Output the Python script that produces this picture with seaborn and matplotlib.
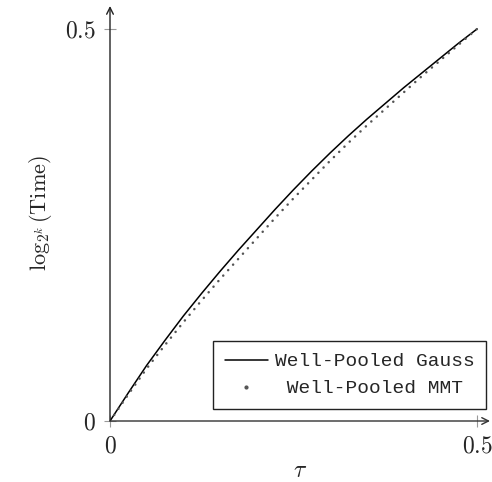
"""Well-Pooled Gauss vs MMT 运行时间曲线 (pgfplots 风格复刻)。"""

import matplotlib
matplotlib.use("Agg")
import matplotlib.pyplot as plt
from matplotlib.lines import Line2D
import pandas as pd
import seaborn as sns

# 数据
TAU = [0.0, 0.025, 0.05, 0.075, 0.10, 0.125, 0.15, 0.175, 0.20, 0.225, 0.25,
       0.275, 0.30, 0.325, 0.35, 0.375, 0.40, 0.425, 0.45, 0.475, 0.50]
GAUSS = [0.0, 0.036, 0.071, 0.103, 0.134, 0.163, 0.191, 0.218, 0.244, 0.270, 0.295,
         0.319, 0.342, 0.364, 0.385, 0.405, 0.425, 0.444, 0.463, 0.482, 0.500]
MMT = [0.0, 0.034, 0.067, 0.097, 0.126, 0.154, 0.181, 0.207, 0.233, 0.259, 0.284,
       0.308, 0.332, 0.355, 0.377, 0.398, 0.419, 0.440, 0.460, 0.480, 0.500]
XTICKS = [0, 0.5]
YTICKS = [0, 0.5]

sns.set_theme(style="white")
plt.rcParams.update({
    "font.family": ["DejaVu Serif"],
    "mathtext.fontset": "cm",
    "axes.unicode_minus": False,
})

df = pd.DataFrame({"tau": TAU, "gauss": GAUSS, "mmt": MMT})

fig = plt.figure(figsize=(4.92, 4.82), dpi=100)
ax = fig.add_axes([110 / 492, 1 - 421 / 482, 380 / 492, 415 / 482])

sns.lineplot(data=df, x="tau", y="gauss", ax=ax, color="black", lw=1.1)
sns.lineplot(data=df, x="tau", y="mmt", ax=ax, color="#555555", lw=1.8,
             linestyle=(0, (0.05, 2.9)), dash_capstyle="round")

ax.set_xlim(0, 380 / 734)
ax.set_ylim(0, 415 / 784)

# 坐标轴: 带箭头
for s in ax.spines.values():
    s.set_visible(False)
ax.annotate("", xy=(1, 0), xytext=(0, 0), xycoords="axes fraction",
            arrowprops=dict(arrowstyle="->", lw=1.0, color="#333333",
                            shrinkA=0, shrinkB=0))
ax.annotate("", xy=(0, 1), xytext=(0, 0), xycoords="axes fraction",
            arrowprops=dict(arrowstyle="->", lw=1.0, color="#222222",
                            shrinkA=0, shrinkB=0))

ax.set_xticks(XTICKS)
ax.set_yticks(YTICKS)
ax.set_xticklabels([f"${t:g}$" for t in XTICKS])
ax.set_yticklabels([f"${t:g}$" for t in YTICKS])
ax.tick_params(axis="both", which="major", direction="inout", length=8,
               width=0.8, color="#999999", labelsize=17, pad=6,
               bottom=True, left=True)

ax.set_xlabel(r"$\tau$", fontsize=17, labelpad=1)
ax.set_ylabel(r"$\log_{2^k}(\mathrm{Time})$", fontsize=16, labelpad=8)

# 图例: MMT 只显示一个点
handles = [
    Line2D([], [], color="black", lw=1.1),
    Line2D([], [], color="#555555", marker="o", markersize=2, linestyle="none"),
]
labels = ["Well-Pooled Gauss", " Well-Pooled MMT"]
leg = ax.legend(handles, labels, loc="lower right",
                bbox_to_anchor=(376 / 380, 12 / 415),
                prop={"family": "Liberation Mono", "size": 14},
                frameon=True, fancybox=False, framealpha=1,
                edgecolor="#222222", handlelength=2.2, borderpad=0.6,
                labelspacing=0.48, handletextpad=0.35, borderaxespad=0)
leg.get_frame().set_linewidth(1.0)

fig.savefig("out.png", dpi=100)
